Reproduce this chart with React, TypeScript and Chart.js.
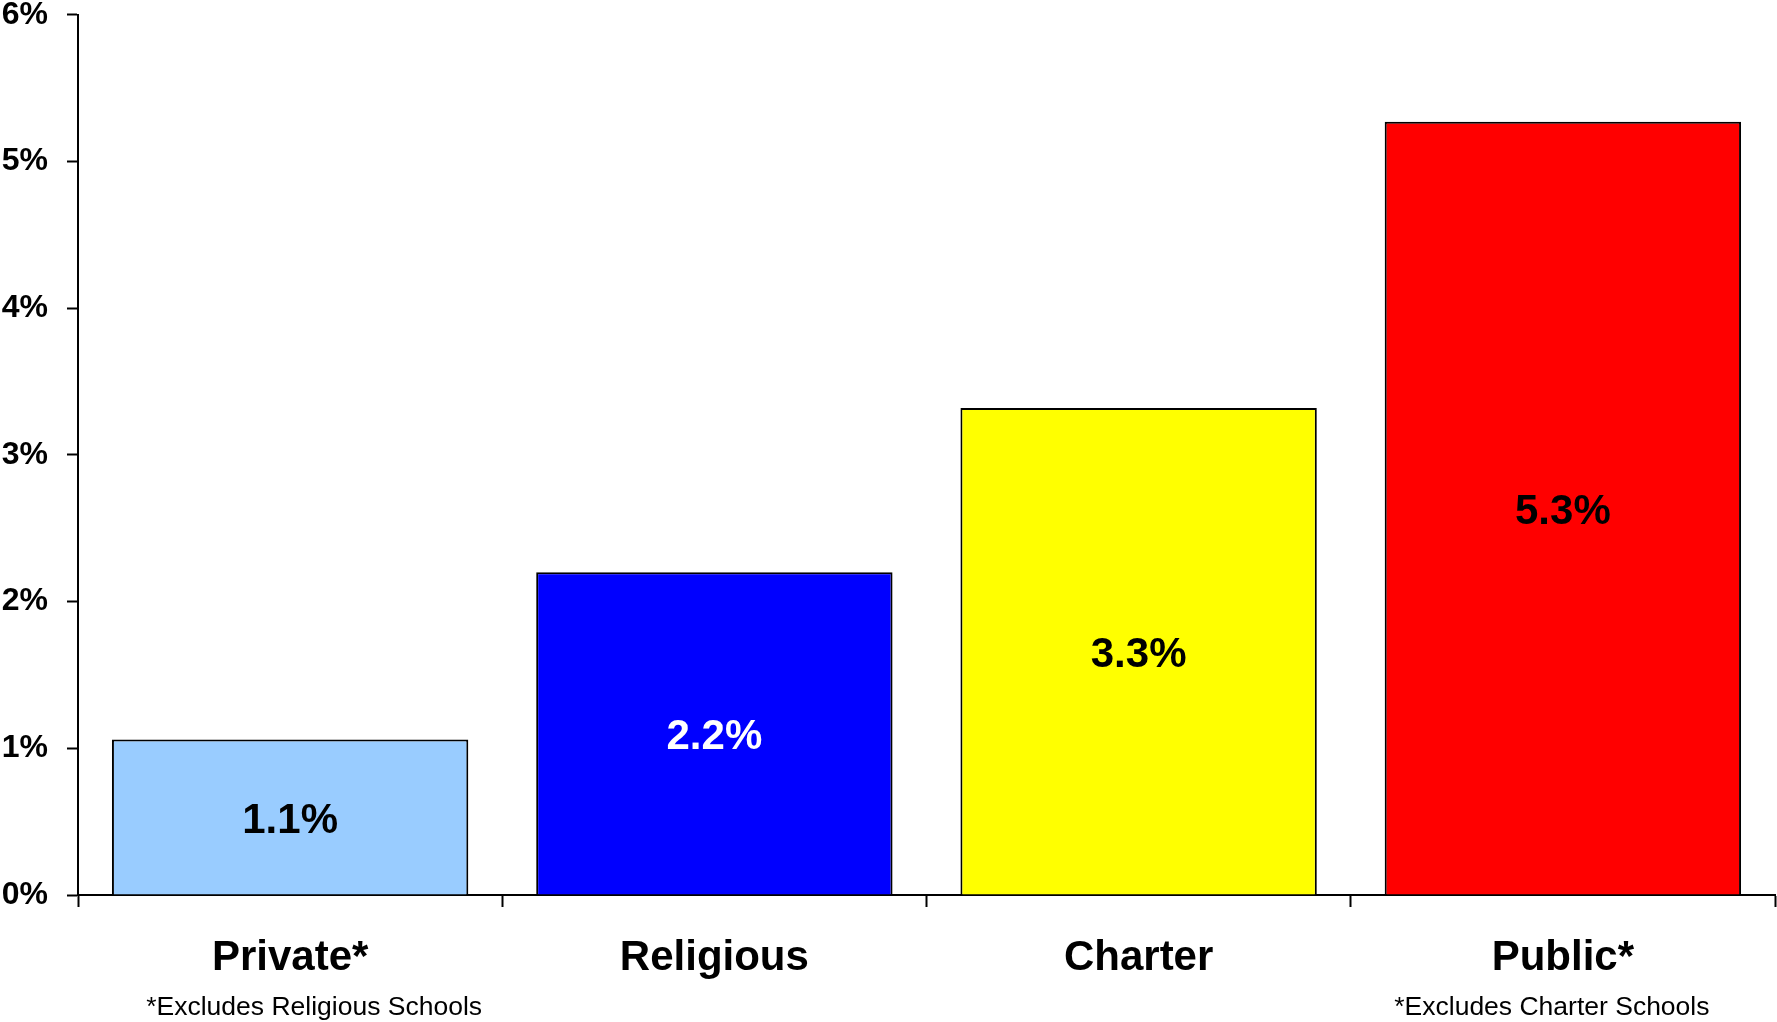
import React, { useEffect, useRef } from "react";
import { Chart, registerables } from "chart.js";

Chart.register(...registerables);

const categories = ["Private*", "Religious", "Charter", "Public*"];
const values = [1.06, 2.2, 3.32, 5.27];
const valueLabels = ["1.1%", "2.2%", "3.3%", "5.3%"];
const barColors = ["#99CCFF", "#0000FF", "#FFFF00", "#FF0000"];
const valueLabelColors = ["#000000", "#FFFFFF", "#000000", "#000000"];
const footnotes = ["*Excludes Religious Schools", "", "", "*Excludes Charter Schools"];
const yMin = 0;
const yMax = 6;
const yStep = 1;

const FONT = 'Arial, "Liberation Sans", sans-serif';
const footnoteOffsets = [24, 0, 0, -11];

const labelPlugin = {
  id: "labelPlugin",
  afterDatasetsDraw(chart: any) {
    const ctx = chart.ctx;
    const meta = chart.getDatasetMeta(0);
    ctx.save();
    ctx.font = `bold 42px ${FONT}`;
    ctx.textAlign = "center";
    ctx.textBaseline = "middle";
    meta.data.forEach((bar: any, i: number) => {
      const props = bar.getProps(["x", "y", "base"], true);
      ctx.fillStyle = valueLabelColors[i];
      ctx.fillText(valueLabels[i], props.x, (props.y + props.base) / 2 + 4);
    });
    const xScale = chart.scales.x;
    ctx.font = `26.5px ${FONT}`;
    ctx.fillStyle = "#000000";
    footnotes.forEach((t, i) => {
      if (!t) return;
      const x = xScale.getPixelForValue(i) + footnoteOffsets[i];
      ctx.fillText(t, x, 1008);
    });
    ctx.restore();
  },
};

export default function App() {
  const canvasRef = useRef<HTMLCanvasElement | null>(null);

  useEffect(() => {
    const canvas = canvasRef.current;
    if (!canvas) return;
    const chart = new Chart(canvas, {
      type: "bar",
      data: {
        labels: categories,
        datasets: [
          {
            data: values,
            backgroundColor: barColors,
            borderColor: "#000000",
            borderWidth: 2,
            categoryPercentage: 1,
            barPercentage: 0.84,
          },
        ],
      },
      options: {
        animation: false,
        responsive: false,
        devicePixelRatio: 1,
        layout: { padding: { top: 0, right: 2, bottom: 0, left: 0 } },
        plugins: {
          legend: { display: false },
          tooltip: { enabled: false },
          title: { display: false },
        },
        scales: {
          x: {
            type: "category",
            offset: true,
            grid: {
              display: true,
              offset: true,
              drawOnChartArea: false,
              drawTicks: true,
              tickLength: 12,
              tickWidth: 2,
              tickColor: "#000000",
            },
            border: { display: true, color: "#000000", width: 2 },
            ticks: {
              color: "#000000",
              padding: 30,
              maxRotation: 0,
              autoSkip: false,
              font: { family: FONT, size: 42, weight: "bold", lineHeight: 1 },
            },
            afterFit: (scale: any) => {
              scale.height = 127;
            },
          },
          y: {
            min: yMin,
            max: yMax,
            grid: {
              display: true,
              drawOnChartArea: false,
              drawTicks: true,
              tickLength: 11,
              tickWidth: 2,
              tickColor: "#000000",
            },
            border: { display: true, color: "#000000", width: 2 },
            ticks: {
              stepSize: yStep,
              color: "#000000",
              padding: 19,
              font: { family: FONT, size: 32, weight: "bold", lineHeight: 1 },
              callback: (v: any) => `${v}%`,
            },
            afterFit: (scale: any) => {
              scale.width = 78;
              scale.paddingTop = 14.7;
              scale.paddingBottom = 14.7;
            },
          },
        },
      },
      plugins: [labelPlugin],
    });
    return () => chart.destroy();
  }, []);

  return (
    <div style={{ position: "fixed", left: 0, top: 0, width: 1777, height: 1022, background: "#ffffff" }}>
      <canvas ref={canvasRef} width={1777} height={1022} style={{ display: "block" }} />
    </div>
  );
}
